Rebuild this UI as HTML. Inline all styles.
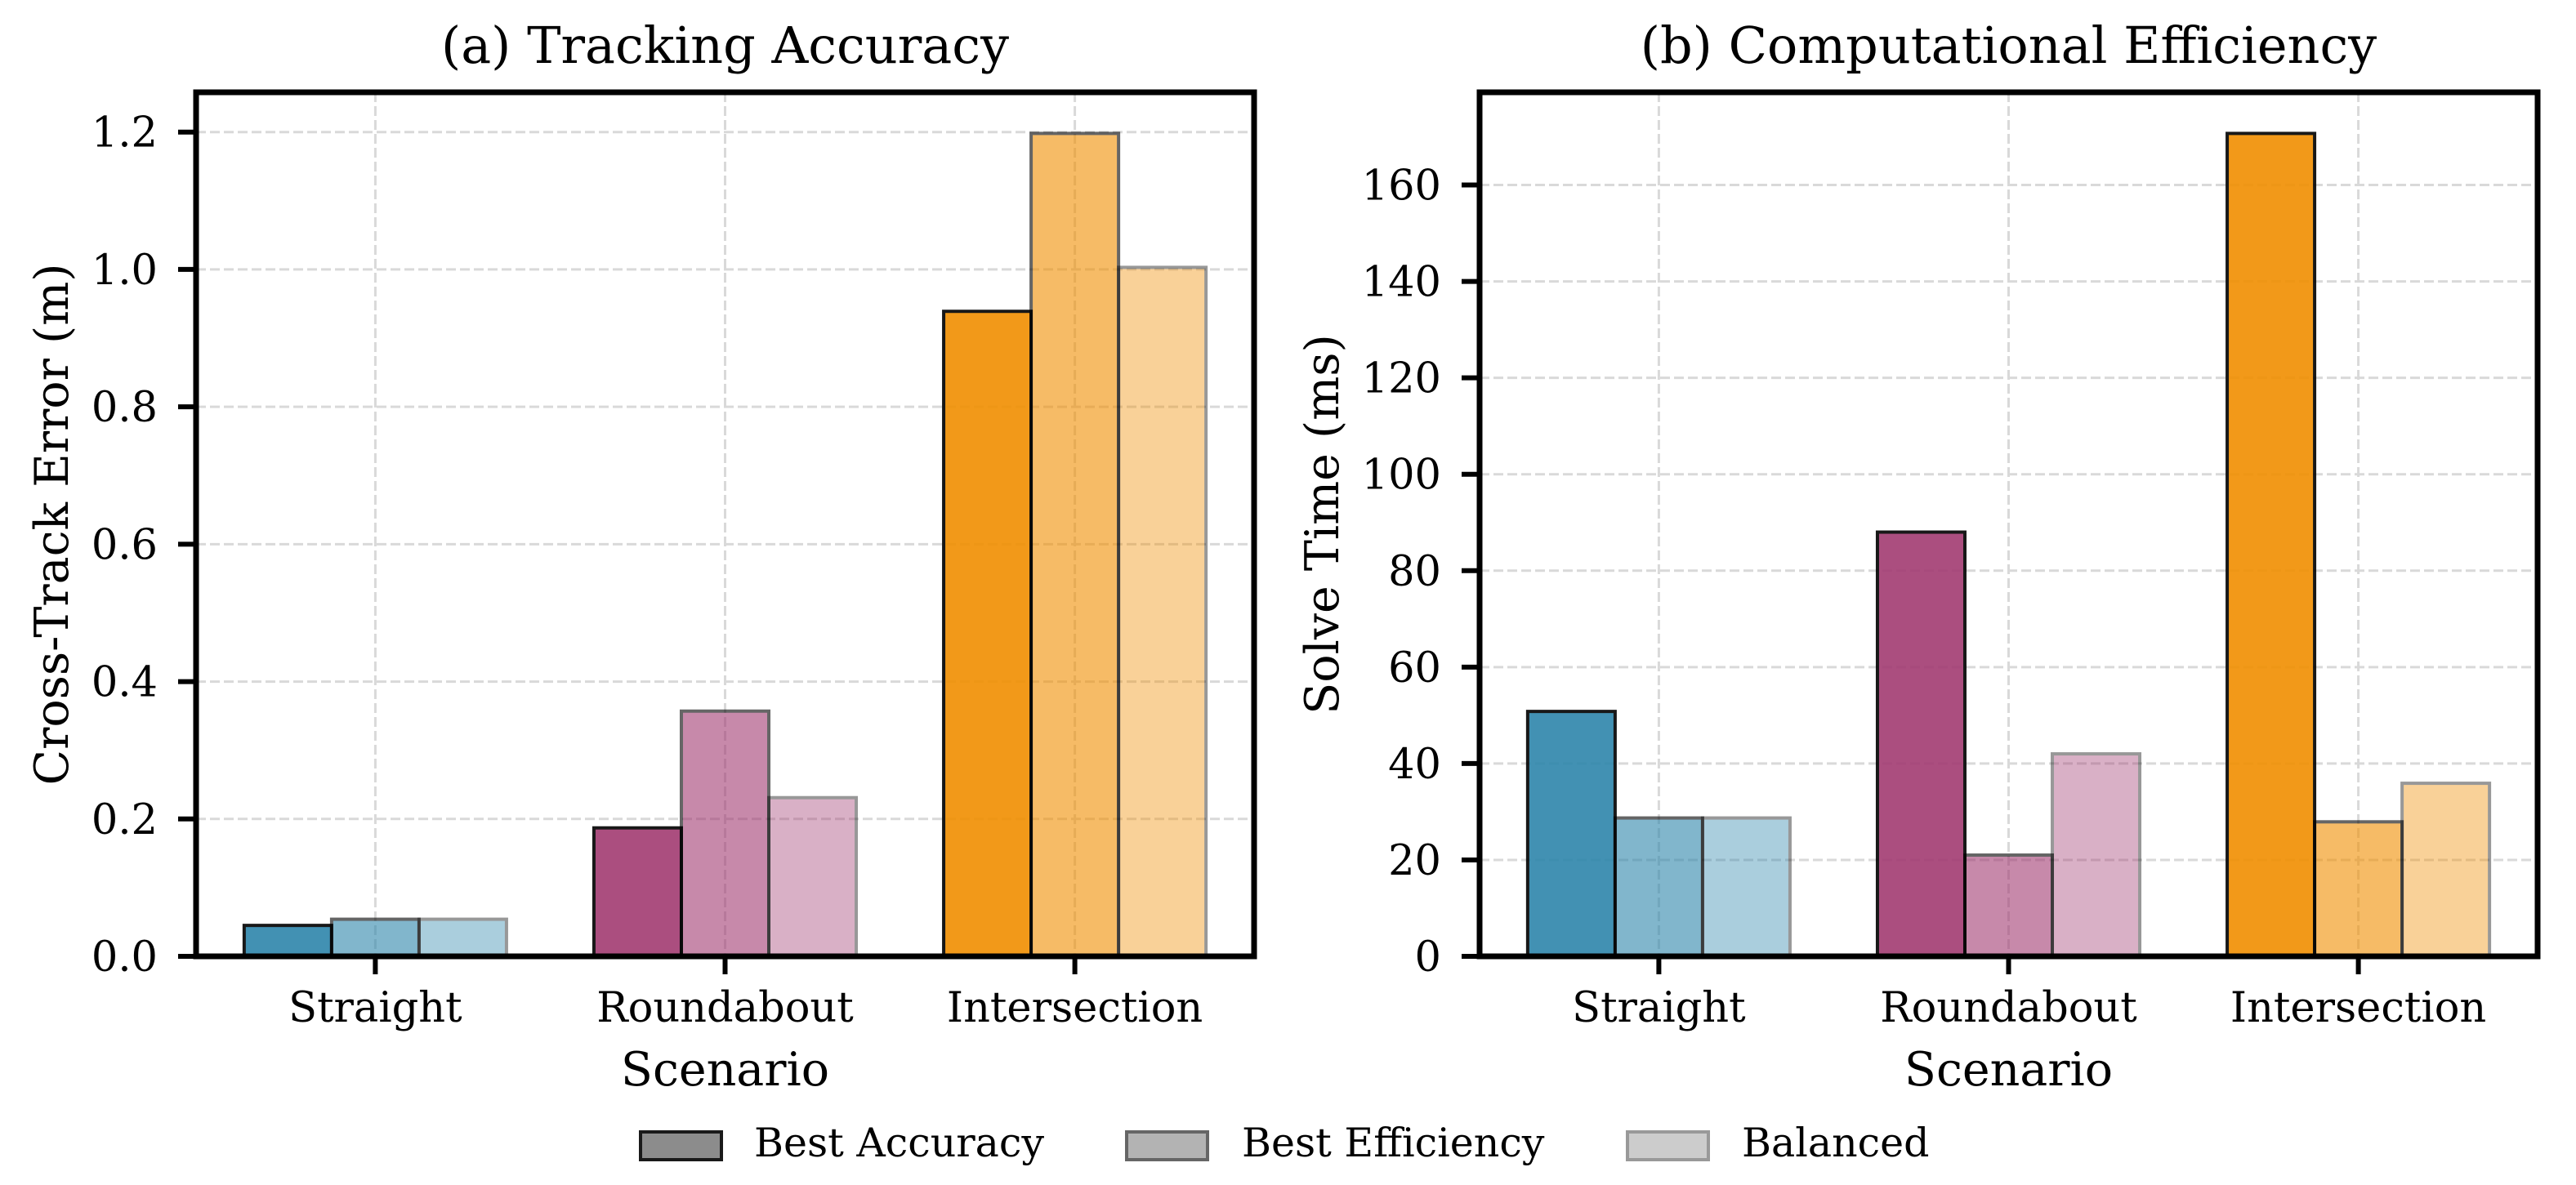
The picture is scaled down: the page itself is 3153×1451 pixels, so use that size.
<!DOCTYPE html>
<html><head><meta charset="utf-8">
<style>
html,body{margin:0;padding:0;background:#fff;}
svg{display:block;}
text{font-family:"DejaVu Serif","Liberation Serif",serif;fill:#000;}
</style></head>
<body>
<svg id="fig" width="3153" height="1451" viewBox="0 0 3153 1451" xmlns="http://www.w3.org/2000/svg">
<rect width="3153" height="1451" fill="#fff"/>
<g id="panelA"></g>
<g id="panelB"></g>
<g id="legend">
  <g>
    <rect x="784" y="1386" width="99" height="34" fill="#8c8c8c" stroke="#1a1a1a" stroke-width="4"/>
    <text x="923" y="1416" font-size="49">Best Accuracy</text>
  </g>
  <g>
    <rect x="1379" y="1386" width="99" height="34" fill="#b3b3b3" stroke="#666" stroke-width="4"/>
    <text x="1520" y="1416" font-size="49">Best Efficiency</text>
  </g>
  <g>
    <rect x="1992" y="1386" width="99" height="34" fill="#cccccc" stroke="#999" stroke-width="4"/>
    <text x="2132" y="1416" font-size="49">Balanced</text>
  </g>
</g>
</svg>
<script>
const categories = ["Straight", "Roundabout", "Intersection"];
const seriesNames = ["Best Accuracy", "Best Efficiency", "Balanced"];
const errorBestAccuracy = [0.045, 0.187, 0.939];
const errorBestEfficiency = [0.054, 0.357, 1.198];
const errorBalanced = [0.054, 0.231, 1.003];
const timeBestAccuracy = [50.8, 88.0, 170.7];
const timeBestEfficiency = [28.7, 21.0, 27.9];
const timeBalanced = [28.7, 42.0, 35.9];
const errorTicks = ["0.0", "0.2", "0.4", "0.6", "0.8", "1.0", "1.2"];
const timeTicks = ["0", "20", "40", "60", "80", "100", "120", "140", "160"];

const NS = "http://www.w3.org/2000/svg";
const baseColors = ["#2E86AB", "#A23B72", "#F18F01"];
const alphas = [0.9, 0.6, 0.4];

function mk(tag, attrs, parent) {
  const e = document.createElementNS(NS, tag);
  for (const k in attrs) e.setAttribute(k, attrs[k]);
  parent.appendChild(e);
  return e;
}

function drawPanel(g, opt) {
  const L = opt.left, R = opt.left + 1295, T = 113, B = 1171;
  const n = categories.length, bw = 0.25;
  const xmin = -0.375 - 0.1375, xmax = (n - 1) + 0.375 + 0.1375;
  const all = opt.series.flat();
  const ymax = Math.max(...all) * 1.05;
  const xs = v => L + (v - xmin) / (xmax - xmin) * (R - L);
  const ys = v => B - v / ymax * (B - T);

  opt.ticks.forEach(t => {
    const v = parseFloat(t); const y = ys(v);
    if (y < T) return;
    const gl = mk("line", {x1: L, x2: R, y1: y, y2: y, stroke: "#d9d9d9", "stroke-width": 3, "stroke-dasharray": "12 5"}, g);
    
    
  });
  categories.forEach((c, i) => {
    const x = xs(i);
    const gl = mk("line", {x1: x, x2: x, y1: T, y2: B, stroke: "#d9d9d9", "stroke-width": 3, "stroke-dasharray": "12 5"}, g);
    
    
  });

  opt.series.forEach((vals, s) => {
    vals.forEach((v, i) => {
      const x0 = xs(i + (s - 1) * bw - bw / 2), x1 = xs(i + (s - 1) * bw + bw / 2);
      const y = ys(v);
      const r = mk("rect", {x: x0, y: y, width: x1 - x0, height: B - y, fill: baseColors[i], stroke: "#000", "stroke-width": 4, opacity: alphas[s]}, g);
      
      
    });
  });

  const sp = mk("rect", {x: L, y: T, width: R - L, height: B - T, fill: "none", stroke: "#000", "stroke-width": 7}, g);
  
  

  opt.ticks.forEach(t => {
    const y = ys(parseFloat(t));
    const tk = mk("line", {x1: L - 22, x2: L, y1: y, y2: y, stroke: "#000", "stroke-width": 6}, g);
    
    
    const tx = mk("text", {x: L - 47, y: y + 18, "font-size": 51, "text-anchor": "end"}, g);
    tx.textContent = t;
    
    
  });
  categories.forEach((c, i) => {
    const x = xs(i);
    const tk = mk("line", {x1: x, x2: x, y1: B, y2: B + 22, stroke: "#000", "stroke-width": 6}, g);
    
    
    const tx = mk("text", {x: x, y: 1251, "font-size": 51, "text-anchor": "middle"}, g);
    tx.textContent = c;
    
    
  });
  const cx = (L + R) / 2;
  const xl = mk("text", {x: cx, y: 1329, "font-size": 57, "text-anchor": "middle"}, g);
  xl.textContent = "Scenario";
  
  
  const yl = mk("text", {x: 0, y: 0, "font-size": 57, "text-anchor": "middle", transform: "translate(" + opt.ylabelX + "," + (T + B) / 2 + ") rotate(-90)"}, g);
  yl.textContent = opt.ylabel;
  
  
  const tt = mk("text", {x: cx, y: 77, "font-size": 62, "text-anchor": "middle"}, g);
  tt.textContent = opt.title;
  
  
}

drawPanel(document.getElementById("panelA"), {
  left: 240, series: [errorBestAccuracy, errorBestEfficiency, errorBalanced],
  ticks: errorTicks, ylabel: "Cross-Track Error (m)", title: "(a) Tracking Accuracy", ylabelX: 83
});
drawPanel(document.getElementById("panelB"), {
  left: 1811, series: [timeBestAccuracy, timeBestEfficiency, timeBalanced],
  ticks: timeTicks, ylabel: "Solve Time (ms)", title: "(b) Computational Efficiency", ylabelX: 1638
});
</script>
</body></html>
